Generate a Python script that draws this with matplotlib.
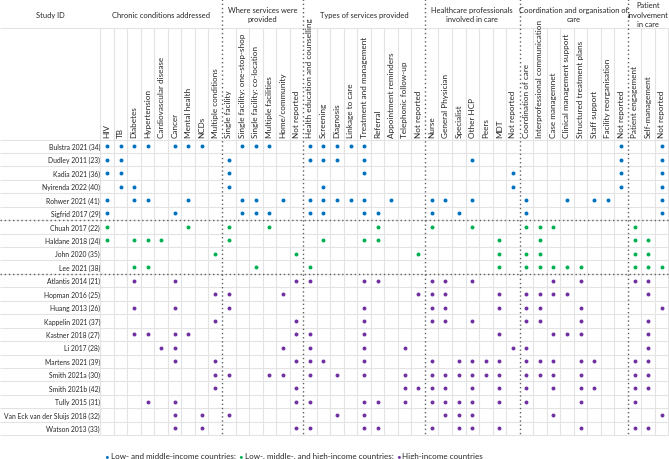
import matplotlib
matplotlib.use("Agg")
import matplotlib.pyplot as plt
from matplotlib.offsetbox import TextArea, HPacker, AnnotationBbox

plt.rcParams["font.family"] = ["Lato", "DejaVu Sans"]

# ---------------------------------
# data
# ---------------------------------
group_titles = [
    "Chronic conditions addressed",
    "Where services were\nprovided",
    "Types of services provided",
    "Healthcare professionals\ninvolved in care",
    "Coordination and organisation of\ncare",
    "Patient\ninvolvement\nin care",
]
group_sizes = [9, 6, 9, 7, 8, 3]

columns = [
    "HIV", "TB", "Diabetes", "Hypertension", "Cardiovascular disease", "Cancer",
    "Mental health", "NCDs", "Multiple conditions",
    "Single facility", "Single facility: one-stop-shop", "Single facility: co-location",
    "Multiple facilities", "Home/community", "Not reported",
    "Health education and counselling", "Screening", "Diagnosis", "Linkage to care",
    "Treatment and management", "Referral", "Appointment reminders",
    "Telephonic follow-up", "Not reported",
    "Nurse", "General Physician", "Specialist", "Other HCP", "Peers", "MDT", "Not reported",
    "Coordination of care", "Interprofessional communication", "Case managemnet",
    "Clinical management support", "Structured treatment plans", "Staff support",
    "Facility reorganisation", "Not reported",
    "Patient engagement", "Self-management", "Not reported",
]

studies = [
    "Bulstra 2021 (34)", "Dudley 2011 (23)", "Kadia 2021 (36)", "Nyirenda 2022 (40)",
    "Rohwer 2021 (41)", "Sigfrid 2017 (29)",
    "Chuah 2017 (22)", "Haldane 2018 (24)", "John 2020 (35)", "Lee 2021 (38)",
    "Atlantis 2014 (21)", "Hopman 2016 (25)", "Huang 2013 (26)", "Kappelin 2021 (37)",
    "Kastner 2018 (27)", "Li 2017 (28)", "Martens 2021 (39)", "Smith 2021a (30)",
    "Smith 2021b (42)", "Tully 2015 (31)", "Van Eck van der Sluijs 2018 (32)",
    "Watson 2013 (33)",
]

income = ["lmic"] * 6 + ["mixed"] * 4 + ["hic"] * 12

# column indices ticked for each study
marks = [
    [0, 1, 2, 3, 5, 6, 7, 10, 11, 12, 15, 16, 17, 18, 19, 38, 41],
    [0, 1, 9, 15, 16, 17, 19, 27, 38, 41],
    [0, 1, 9, 19, 30, 38, 41],
    [1, 2, 9, 16, 30, 38, 41],
    [0, 2, 3, 6, 10, 11, 13, 15, 16, 17, 18, 19, 21, 24, 25, 27, 31, 34, 36, 37, 41],
    [0, 5, 10, 11, 12, 15, 16, 19, 20, 24, 26, 31, 41],
    [0, 6, 9, 12, 20, 24, 27, 31, 32, 33, 39],
    [0, 2, 3, 4, 9, 16, 19, 20, 29, 32, 39, 40],
    [8, 14, 23, 29, 31, 32, 39, 40],
    [2, 3, 11, 15, 29, 31, 32, 33, 34, 35, 39, 40, 41],
    [2, 5, 14, 15, 19, 20, 24, 25, 27, 33, 35, 39, 40],
    [8, 9, 13, 23, 24, 25, 29, 31, 32, 33, 34, 40],
    [2, 5, 9, 19, 24, 25, 29, 31, 32, 35, 41],
    [8, 14, 19, 24, 25, 27, 31, 32, 35, 40],
    [2, 3, 5, 6, 14, 15, 19, 29, 33, 34, 35, 40],
    [4, 5, 13, 15, 19, 22, 30, 31, 40],
    [5, 8, 14, 15, 16, 19, 24, 26, 27, 28, 29, 31, 32, 33, 35, 36, 39, 40],
    [8, 9, 12, 13, 15, 17, 19, 22, 24, 25, 26, 27, 28, 29, 31, 32, 33, 35, 39, 40],
    [8, 14, 22, 23, 24, 25, 27, 29, 31, 33, 35, 36, 39, 40],
    [3, 5, 14, 15, 19, 20, 22, 24, 25, 26, 27, 29, 31, 35, 39],
    [5, 7, 9, 17, 19, 25, 26, 27, 33, 41],
    [5, 7, 14, 15, 19, 20, 24, 26, 27, 29, 35, 39, 40],
]

income_colors = {"lmic": "#0070C0", "mixed": "#00B050", "hic": "#7030A0"}
legend_labels = [
    ("lmic", "Low- and middle-income countries; "),
    ("mixed", "Low-, middle-, and high-income countries; "),
    ("hic", "High-income countries"),
]

# ---------------------------------
# layout (table units: one column / one row = 1)
# ---------------------------------
n_cols = len(columns)
n_rows = len(studies)
x_left, x_right = -7.91, 41.54
y_top, y_bottom = -10.97, 23.28
header_line = -8.81
grid_col = "#e3e3e3"
dot_col = "#606060"
txt_col = "#262626"

fig = plt.figure(figsize=(6.69, 4.60), dpi=100)
ax = fig.add_axes([0, 0, 1, 1])
ax.set_xlim(x_left, x_right)
ax.set_ylim(y_bottom, y_top)
ax.axis("off")

# light grid
bounds = [-0.5]
for g in group_sizes:
    bounds.append(bounds[-1] + g)

for c in range(n_cols + 1):
    xc = c - 0.5
    if xc in bounds[1:-1]:
        continue
    ax.vlines(xc, header_line, n_rows - 0.5, color=grid_col, lw=0.8, zorder=1)
for r in range(n_rows + 1):
    ax.hlines(r - 0.5, x_left, x_right, color=grid_col, lw=0.8, zorder=1)
ax.hlines(header_line, x_left, x_right, color=grid_col, lw=0.8, zorder=1)

# dotted group separators
for b in bounds[1:-1]:
    ax.vlines(b, y_top, n_rows - 0.5, color=dot_col, lw=1.0,
              linestyles=(0, (1, 2)), zorder=2)
split_rows = [i for i in range(1, n_rows) if income[i] != income[i - 1]]
for r in split_rows:
    ax.hlines(r - 0.5, x_left, x_right, color=dot_col, lw=1.0,
              linestyles=(0, (1, 2)), zorder=2)

# headers
hdr_y = -9.85
ax.text((x_left - 0.5) / 2, hdr_y, "Study ID", ha="center", va="center",
        fontsize=5.4, color=txt_col)
for title, lo, hi in zip(group_titles, bounds[:-1], bounds[1:]):
    ax.text((lo + hi) / 2, hdr_y, title, ha="center", va="center",
            fontsize=5.4, linespacing=1.35, color=txt_col)

for c, name in enumerate(columns):
    ax.text(c, -0.7, name, rotation=90, ha="center", va="bottom",
            fontsize=5.9, color=txt_col)

# rows
for r, name in enumerate(studies):
    ax.text(-0.52, r, name, ha="right", va="center", fontsize=4.9, color=txt_col)
    cols = marks[r]
    ax.scatter(cols, [r] * len(cols), s=8, color=income_colors[income[r]],
               linewidths=0, zorder=3)

# legend line
parts = []
for key, label in legend_labels:
    parts.append(TextArea("\u2022", textprops=dict(color=income_colors[key], fontsize=5.8)))
    parts.append(TextArea(" " + label, textprops=dict(color=txt_col, fontsize=5.8)))
legend_box = HPacker(children=parts, align="baseline", pad=0, sep=0)
ab = AnnotationBbox(legend_box, (-0.2, 23.0), xycoords="data",
                    box_alignment=(0, 0.5), frameon=False)
ax.add_artist(ab)

plt.savefig("out.png", dpi=100)
plt.close()
